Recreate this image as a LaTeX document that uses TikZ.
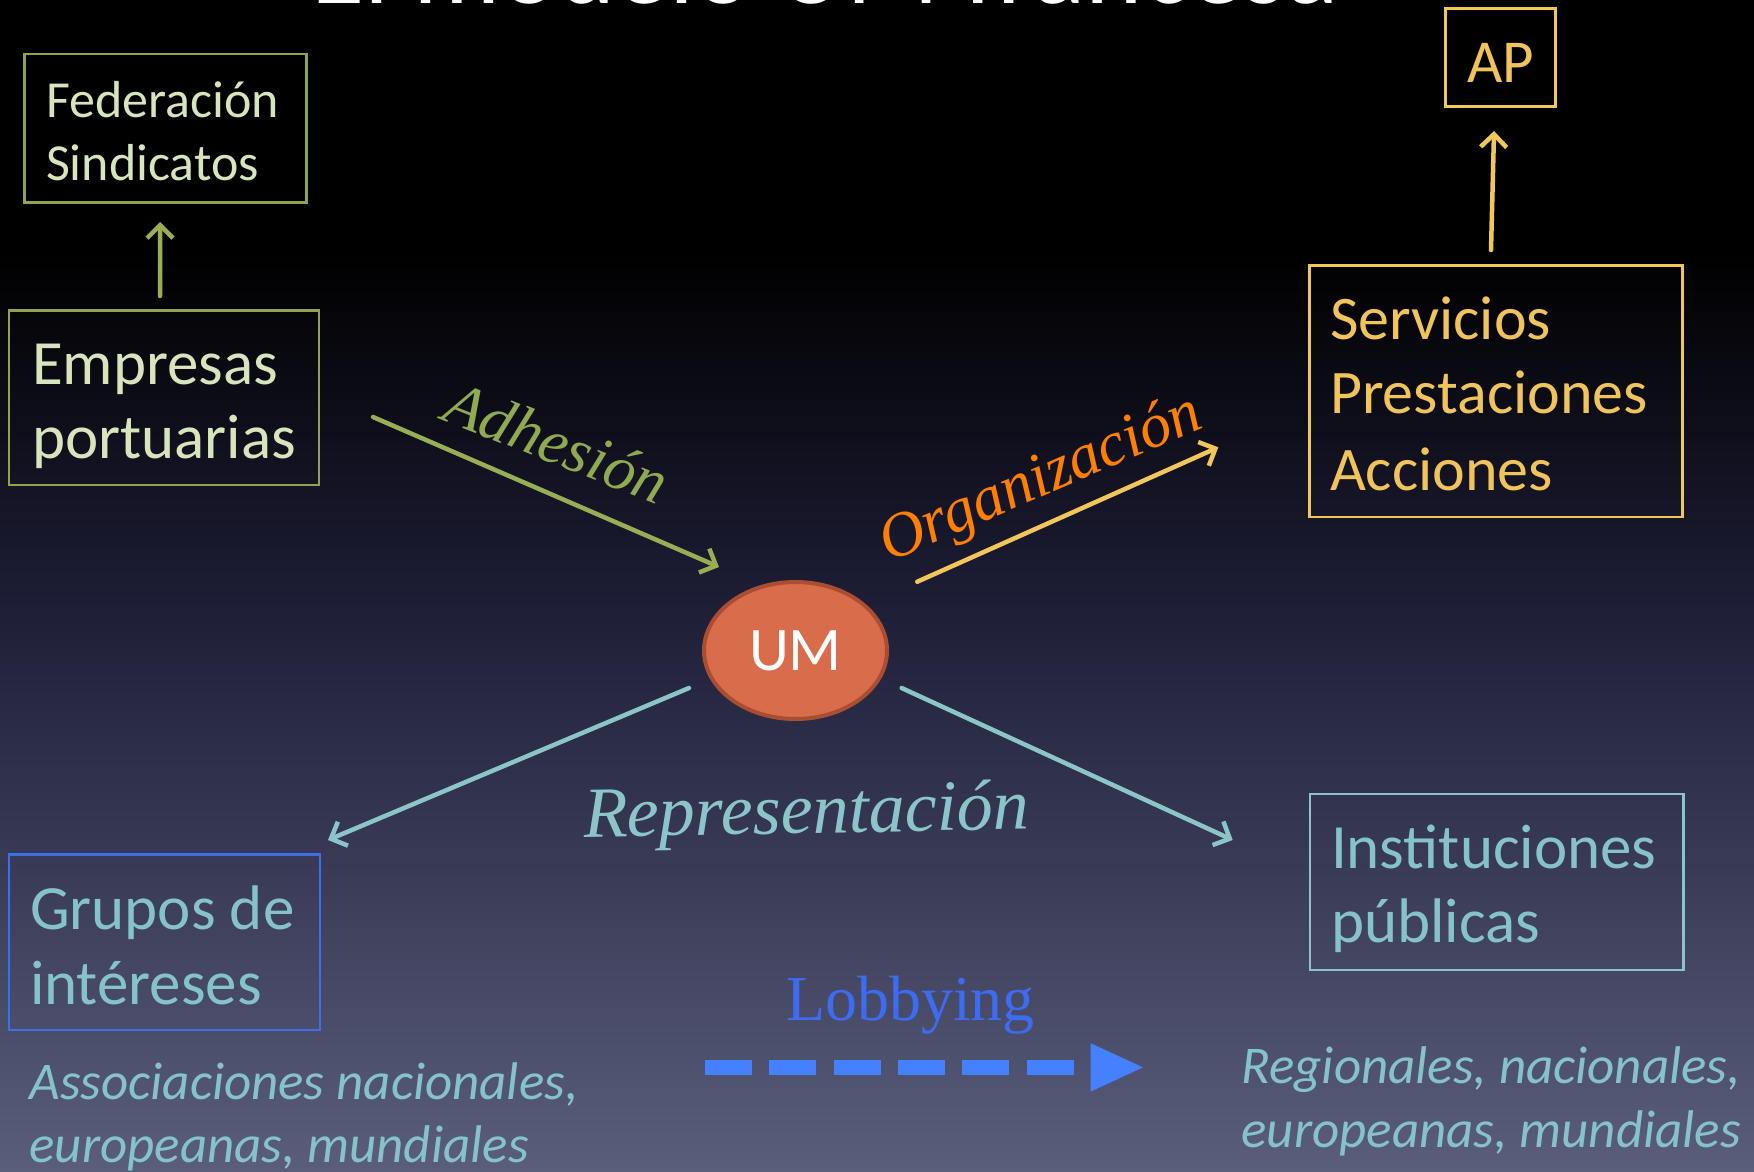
\documentclass[tikz,border=0pt]{standalone}
\usepackage{fontspec}
\setmainfont{Carlito}
\newfontfamily\timesf{Liberation Serif}
\usetikzlibrary{arrows.meta,shapes.geometric,calc}
\definecolor{bgmid}{HTML}{1D1D36}
\definecolor{bgbot}{HTML}{5A5E7B}
\definecolor{fedtext}{HTML}{D8E4BC}
\definecolor{gline}{HTML}{97AE54}
\definecolor{gbox}{HTML}{8EA54E}
\definecolor{adhtext}{HTML}{8FAA4F}
\definecolor{yline}{HTML}{F1C75A}
\definecolor{ytext}{HTML}{F0C45A}
\definecolor{orgtext}{HTML}{FF8000}
\definecolor{teal}{HTML}{8BC5CA}
\definecolor{tealtext}{HTML}{86C3C8}
\definecolor{grpblue}{HTML}{3F6FE8}
\definecolor{umfill}{HTML}{D96C4A}
\definecolor{umborder}{HTML}{A94E30}
\definecolor{lobtext}{HTML}{3D6BF2}
\definecolor{lobblue}{HTML}{4580FF}
\newcommand\pxsize[1]{\fontsize{#1}{#1}\selectfont}
\tikzset{
  boxnode/.style={draw, line width=2.5pt, inner sep=0pt, outer sep=0pt},
  txt/.style={anchor=base west, inner sep=0pt, outer sep=0pt},
  arr/.style={line width=4.5pt, line cap=round, -{Straight Barb[length=13pt,width=26pt]}},
  lobline/.style={draw=lobblue, line width=15pt, dash pattern=on 47pt off 17.3pt}
}
\begin{document}
\begin{tikzpicture}[x=1pt,y=-1pt]
\path[use as bounding box] (0,0) rectangle (1754,1172);
\clip (0,0) rectangle (1754,1172);
% background
\fill[black] (0,0) rectangle (1754,252);
\shade[top color=black, bottom color=bgmid] (0,250) rectangle (1754,602);
\shade[top color=bgmid, bottom color=bgbot] (0,600) rectangle (1754,1172);
% title (cut at the top)
\node[txt, text=white, font=\pxsize{109}] (title) at (311,4) {El modelo UM francesa};
% boxes
\node[boxnode, draw=gbox, minimum width=282.1pt, minimum height=148.7pt] (fed) at (165.65,128.35) {};
\node[boxnode, draw=gbox, minimum width=310pt, minimum height=174.3pt] (emp) at (164,397.85) {};
\node[boxnode, draw=yline, minimum width=110pt, minimum height=98pt] (ap) at (1500.65,57.5) {};
\node[boxnode, draw=yline, minimum width=373pt, minimum height=251.8pt] (serv) at (1496,391.3) {};
\node[boxnode, draw=grpblue, minimum width=311pt, minimum height=175.3pt] (grp) at (164.5,942.35) {};
\node[boxnode, draw=teal, minimum width=373.5pt, minimum height=176pt] (inst) at (1496.75,882) {};
\node[ellipse, fill=umfill, draw=umborder, line width=4pt, minimum width=183pt, minimum height=137pt, inner sep=0pt, text=white, font=\pxsize{62}] (um) at (795.5,650.5) {UM};
% box texts
\node[txt, text=fedtext, font=\pxsize{52}] (fed1) at (46,117.3) {Federación};
\node[txt, text=fedtext, font=\pxsize{52}] (fed2) at (46,180) {Sindicatos};
\node[txt, text=fedtext, font=\pxsize{63}] (emp1) at (32,384) {Empresas};
\node[txt, text=fedtext, font=\pxsize{63}] (emp2) at (32,458) {portuarias};
\node[txt, text=ytext, font=\pxsize{61}] (ap1) at (1467,82) {AP};
\node[txt, text=ytext, font=\pxsize{62}] (serv1) at (1330,339) {Servicios};
\node[txt, text=ytext, font=\pxsize{62}] (serv2) at (1330,413) {Prestaciones};
\node[txt, text=ytext, font=\pxsize{62}] (serv3) at (1330,490) {Acciones};
\node[txt, text=tealtext, font=\pxsize{63}] (grp1) at (30,929) {Grupos de};
\node[txt, text=tealtext, font=\pxsize{63}] (grp2) at (30,1004) {intéreses};
\node[txt, text=tealtext, font=\pxsize{63}] (inst1) at (1331,868) {Instituciones};
\node[txt, text=tealtext, font=\pxsize{63}] (inst2) at (1331,942.5) {públicas};
\node[txt, text=tealtext, font=\itshape\pxsize{53}] (aso1) at (29.5,1099.5) {Associaciones nacionales,};
\node[txt, text=tealtext, font=\itshape\pxsize{53}] (aso2) at (29.5,1162) {europeanas, mundiales};
\node[txt, text=tealtext, font=\itshape\pxsize{53}] (reg1) at (1241.5,1083.5) {Regionales, nacionales,};
\node[txt, text=tealtext, font=\itshape\pxsize{53}] (reg2) at (1241.5,1147) {europeanas, mundiales};
% connector labels
\node[txt, text=adhtext, font=\timesf\itshape\pxsize{63}, rotate=-21.6] (adh) at (440,419) {Adhesión};
\node[txt, text=orgtext, font=\timesf\itshape\pxsize{63}, rotate=23.1] (org) at (889,562) {Organización};
\node[txt, text=teal, font=\timesf\itshape\pxsize{72}, rotate=1] (rep) at (584,837) {Representación};
\node[txt, text=lobtext, font=\timesf\pxsize{64}] (lob) at (786,1020.6) {Lobbying};
% free ends
\coordinate (adhS) at (373,417);
\coordinate (adhE) at (719,567);
\coordinate (orgS) at (917.3,581.7);
\coordinate (orgE) at (1218.3,447.3);
\coordinate (repLS) at (689,688);
\coordinate (repLE) at (328,840);
\coordinate (repRS) at (901.6,688);
\coordinate (repRE) at (1232.7,840);
\coordinate (lobS) at (705,1067.4);
\coordinate (lobB) at (1090.6,1067.4);
\coordinate (lobE) at (1143,1067.4);
% connectors
\draw[arr, draw=gline] ([xshift=-4pt,yshift=14.7pt]emp.north) -- ([xshift=-5.6pt,yshift=-19.3pt]fed.south);
\draw[arr, draw=yline] ([xshift=-5pt,yshift=15.4pt]serv.north) -- ([xshift=-6.6pt,yshift=-24.5pt]ap.south);
\draw[arr, draw=gline] (adhS) -- (adhE);
\draw[arr, draw=yline] (orgS) -- (orgE);
\draw[arr, draw=teal] (repLS) -- (repLE);
\draw[arr, draw=teal] (repRS) -- (repRE);
\draw[lobline] (lobS) -- (lobB);
\fill[lobblue] ($(lobB)+(0,-24.2)$) -- (lobE) -- ($(lobB)+(0,24.2)$) -- cycle;
\end{tikzpicture}
\end{document}
